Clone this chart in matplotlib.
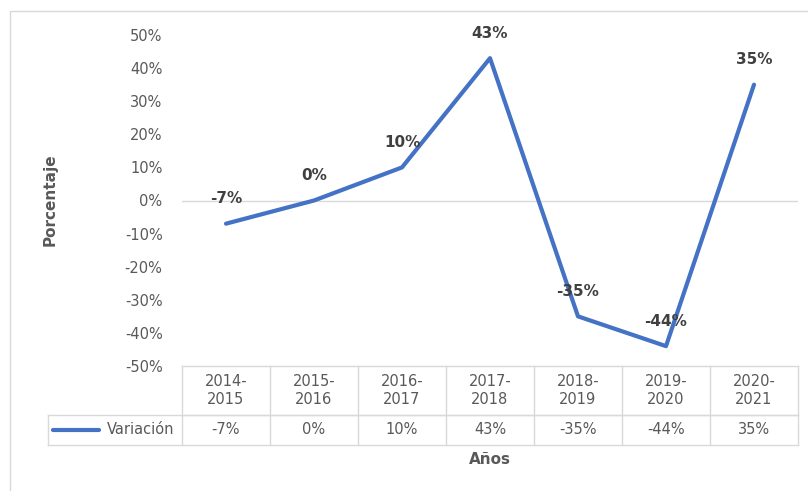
import matplotlib.pyplot as plt
from matplotlib.patches import Rectangle
from matplotlib.lines import Line2D

# Data
periodos = ['2014-\n2015', '2015-\n2016', '2016-\n2017', '2017-\n2018',
            '2018-\n2019', '2019-\n2020', '2020-\n2021']
variacion = [-7, 0, 10, 43, -35, -44, 35]
serie = 'Variación'

W, H = 808, 491
fig = plt.figure(figsize=(W / 100, H / 100), dpi=100)

# chart border
fig.patches.append(Rectangle((10 / W, -0.02), 1.1, 1 - 11 / H + 0.02,
                             transform=fig.transFigure, fill=False,
                             edgecolor='#d9d9d9', linewidth=1))

ax = fig.add_axes([182 / W, 1 - 366 / H, (798 - 182) / W, (366 - 35) / H])
x = list(range(len(variacion)))
ax.plot(x, variacion, color='#4472C4', linewidth=3.0, solid_capstyle='round')
ax.set_xlim(-0.5, len(x) - 0.5)
ax.set_ylim(-50, 50)
ax.axhline(0, color='#d9d9d9', linewidth=1, zorder=0)

for s in ax.spines.values():
    s.set_visible(False)
ax.set_xticks([])
ax.set_yticks(range(-50, 51, 10))
ax.set_yticklabels([f'{v}%' for v in range(-50, 51, 10)])
ax.tick_params(axis='y', length=0, pad=14, labelsize=10.5, labelcolor='#595959')

for xi, v in zip(x, variacion):
    ax.annotate(f'{v}%', (xi, v), xytext=(0, 18), textcoords='offset points',
                ha='center', va='center', fontsize=11, fontweight='bold',
                color='#404040')

# data table below the plot
tc = '#d9d9d9'
ytop = 0.0
yhead = -49 / 331
yval = -79 / 331
trans = ax.get_xaxis_transform()
x_left_legend = -0.5 - (182 - 48) / 88.0
for y in [ytop, yhead]:
    ax.add_line(Line2D([-0.5, len(x) - 0.5], [y, y], transform=trans,
                       color=tc, linewidth=1, clip_on=False))
for y in [yhead, yval]:
    ax.add_line(Line2D([x_left_legend, len(x) - 0.5], [y, y], transform=trans,
                       color=tc, linewidth=1, clip_on=False))
ax.add_line(Line2D([x_left_legend] * 2, [yhead, yval], transform=trans,
                   color=tc, linewidth=1, clip_on=False))
for b in range(len(x) + 1):
    ax.add_line(Line2D([b - 0.5] * 2, [ytop, yval], transform=trans,
                       color=tc, linewidth=1, clip_on=False))

for xi, lab, v in zip(x, periodos, variacion):
    ax.text(xi, (ytop + yhead) / 2, lab, transform=trans, ha='center',
            va='center', fontsize=10.5, color='#595959', linespacing=1.2)
    ax.text(xi, (yhead + yval) / 2, f'{v}%', transform=trans, ha='center',
            va='center', fontsize=10.5, color='#595959')

ymid = (yhead + yval) / 2
ax.add_line(Line2D([x_left_legend + 0.06, x_left_legend + 0.58], [ymid, ymid],
                   transform=trans, color='#4472C4', linewidth=3.0,
                   solid_capstyle='round', clip_on=False))
ax.text(-0.5 - 0.09, ymid, serie, transform=trans, ha='right', va='center',
        fontsize=10.5, color='#595959')

# axis titles
fig.text(50 / W, 1 - 200 / H, 'Porcentaje', rotation=90, ha='center',
         va='center', fontsize=11, fontweight='bold', color='#595959')
fig.text(490 / W, 1 - 460 / H, 'Años', ha='center', va='center',
         fontsize=11, fontweight='bold', color='#595959')

fig.savefig('out.png', dpi=100)
